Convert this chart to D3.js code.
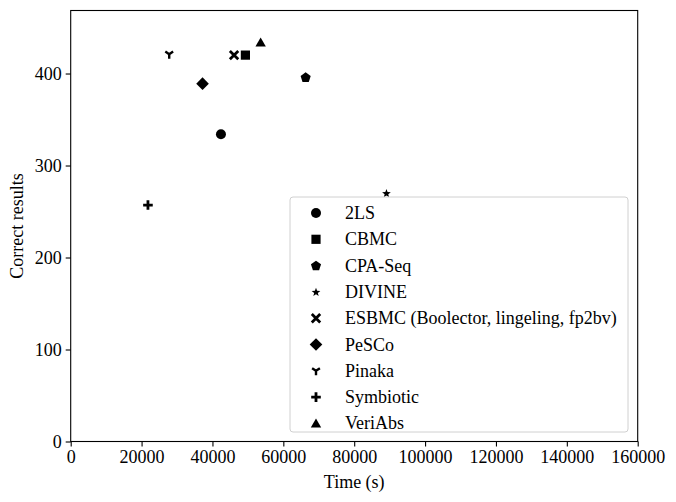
<!DOCTYPE html>
<html>
<head>
<meta charset="utf-8">
<script src="https://cdn.jsdelivr.net/npm/d3@7"></script>
<style>
  body { margin: 0; background: #fff; }
  text { font-family: "Liberation Serif", "DejaVu Serif", serif; }
</style>
</head>
<body>
<svg id="canvas"></svg>
<script>
const tools = ['2LS', 'CBMC', 'CPA-Seq', 'DIVINE', 'ESBMC (Boolector, lingeling, fp2bv)', 'PeSCo', 'Pinaka', 'Symbiotic', 'VeriAbs'];
const times = [42400, 49300, 66300, 89100, 46100, 37200, 27800, 21800, 53600];
const correct = [334, 420, 396, 270, 420, 389, 421, 257, 434];
const markers = ['circle', 'square', 'pentagon', 'star', 'x', 'diamond', 'tri', 'plus', 'triangle'];
const xTicks = [0, 20000, 40000, 60000, 80000, 100000, 120000, 140000, 160000];
const yTicks = [0, 100, 200, 300, 400];

const width = 676;
const height = 502;
const margin = {left: 70.7, right: 38.3, top: 10.5, bottom: 60.5};
const fontSize = '18px';

const canvas = d3.select('#canvas')
                 .attr('width', width)
                 .attr('height', height);

const x = d3.scaleLinear()
            .domain([0, 160000])
            .range([margin.left, width - margin.right]);

const y = d3.scaleLinear()
            .domain([0, 468.5])
            .range([height - margin.bottom, margin.top]);

// marker shapes, roughly like matplotlib's
const markerPath = (type) => {
  const p = d3.path();
  if (type === 'circle') {
    p.arc(0, 0, 5, 0, 2 * Math.PI);
  } else if (type === 'square') {
    p.rect(-4.6, -4.6, 9.2, 9.2);
  } else if (type === 'pentagon' || type === 'star' || type === 'triangle') {
    const n = type === 'triangle' ? 3 : 5;
    const pts = [];
    for (let i = 0; i < n; i++) {
      const a = -Math.PI / 2 + i * 2 * Math.PI / n;
      if (type === 'pentagon') pts.push([5.3 * Math.cos(a), 5.3 * Math.sin(a) + 0.4]);
      else if (type === 'triangle') pts.push([6 * Math.cos(a), 6 * Math.sin(a) + 1.2]);
      else {
        pts.push([4.6 * Math.cos(a), 4.6 * Math.sin(a) + 0.5]);
        const b = a + Math.PI / 5;
        pts.push([1.9 * Math.cos(b), 1.9 * Math.sin(b) + 0.5]);
      }
    }
    p.moveTo(pts[0][0], pts[0][1]);
    pts.slice(1).forEach(q => p.lineTo(q[0], q[1]));
    p.closePath();
  } else if (type === 'diamond') {
    p.moveTo(0, -6.3); p.lineTo(6.3, 0); p.lineTo(0, 6.3); p.lineTo(-6.3, 0); p.closePath();
  }
  return p.toString();
};

const strokePath = (type) => {
  if (type === 'x') return 'M-4.2,-4.2L4.2,4.2M-4.2,4.2L4.2,-4.2';
  if (type === 'plus') return 'M-4.8,0L4.8,0M0,-4.8L0,4.8';
  if (type === 'tri') return 'M0,0L0,4.5M0,0L-3.9,-2.6M0,0L3.9,-2.6';
  return null;
};

const drawMarker = (g, type) => {
  const s = strokePath(type);
  if (s) {
    g.append('path').attr('d', s)
     .attr('fill', 'none').attr('stroke', '#000')
     .attr('stroke-width', type === 'tri' ? 2.4 : 2.8);
  } else {
    g.append('path').attr('d', markerPath(type)).attr('fill', '#000');
  }
};

// axes
const xAxis = d3.axisBottom(x).tickValues(xTicks).tickFormat(d => d).tickSize(5).tickPadding(4);
const yAxis = d3.axisLeft(y).tickValues(yTicks).tickFormat(d => d).tickSize(5).tickPadding(4);

const gx = canvas.append('g')
                 .attr('transform', `translate(0, ${height - margin.bottom})`)
                 .call(xAxis);
const gy = canvas.append('g')
                 .attr('transform', `translate(${margin.left}, 0)`)
                 .call(yAxis);

[gx, gy].forEach(g => {
  g.select('.domain').remove();
  g.selectAll('line').attr('stroke', '#000').attr('stroke-width', 1.1);
  g.selectAll('text')
   .attr('fill', '#000')
   .style('font-family', '"Liberation Serif", serif')
   .style('font-size', fontSize);
});

// frame
canvas.append('rect')
      .attr('x', margin.left)
      .attr('y', margin.top)
      .attr('width', width - margin.left - margin.right)
      .attr('height', height - margin.top - margin.bottom)
      .attr('fill', 'none')
      .attr('stroke', '#000')
      .attr('stroke-width', 1.1);

// points
tools.forEach((t, i) => {
  const g = canvas.append('g')
                  .attr('transform', `translate(${x(times[i])}, ${y(correct[i])})`);
  drawMarker(g, markers[i]);
});

// axis labels
canvas.append('text')
      .attr('x', (margin.left + width - margin.right) / 2)
      .attr('y', 488)
      .attr('text-anchor', 'middle')
      .style('font-size', fontSize)
      .text('Time (s)');

canvas.append('text')
      .attr('transform', `translate(23, ${(margin.top + height - margin.bottom) / 2}) rotate(-90)`)
      .attr('text-anchor', 'middle')
      .style('font-size', fontSize)
      .text('Correct results');

// legend
const legend = canvas.append('g');
legend.append('rect')
      .attr('x', 290)
      .attr('y', 197)
      .attr('width', 338)
      .attr('height', 235)
      .attr('rx', 3)
      .attr('fill', '#fff')
      .attr('fill-opacity', 0.8)
      .attr('stroke', '#d0d0d0')
      .attr('stroke-width', 1);

tools.forEach((t, i) => {
  const row = legend.append('g')
                    .attr('transform', `translate(316, ${213 + i * 26.3})`);
  drawMarker(row, markers[i]);
  row.append('text')
     .attr('x', 29)
     .attr('y', 6)
     .style('font-size', fontSize)
     .text(t);
});
</script>
</body>
</html>
